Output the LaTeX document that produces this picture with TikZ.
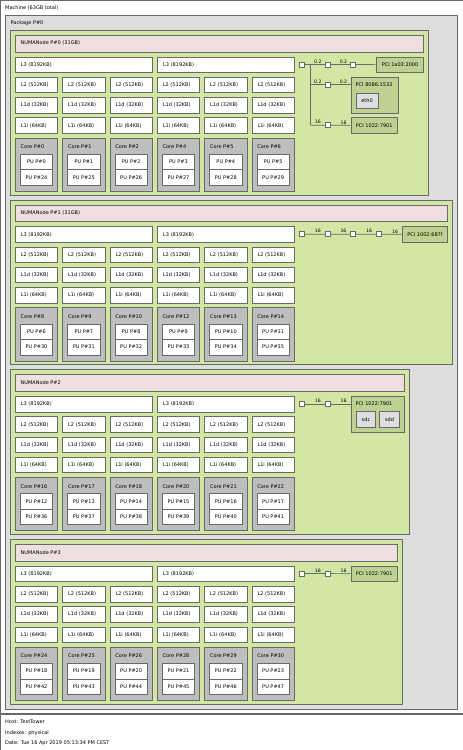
\documentclass[tikz,border=0pt]{standalone}
\usepackage{fontspec}
\setmainfont{DejaVu Sans}
\usetikzlibrary{positioning,calc}
\definecolor{pkgcol}{HTML}{DEDEDE}
\definecolor{numacol}{HTML}{D2E7A4}
\definecolor{memcol}{HTML}{EFDFDE}
\definecolor{corecol}{HTML}{BEBEBE}
\definecolor{pcicol}{RGB}{190,209,146}
\definecolor{oscol}{HTML}{DEDEDE}
\definecolor{edgecol}{RGB}{105,105,105}
\tikzset{
  bx/.style={draw=edgecol,line width=0.7pt,anchor=north west,inner sep=0pt,
            font=\fontsize{5}{6}\selectfont},
  machine/.style={bx,fill=white},
  pkg/.style={bx,fill=pkgcol},
  numa/.style={bx,fill=numacol},
  memtitle/.style={bx,fill=memcol},
  cache/.style={bx,fill=white,minimum height=15.5pt,align=left,inner xsep=5.5pt},
  core/.style={bx,fill=corecol,minimum width=42.3pt,minimum height=53.3pt},
  pu/.style={bx,fill=white,minimum width=32.3pt,minimum height=15.4pt},
  pcidev/.style={bx,fill=pcicol,minimum height=15.5pt,inner xsep=5pt},
  osdev/.style={bx,fill=oscol},
  bridge/.style={draw=edgecol,line width=0.7pt,fill=white,minimum size=5pt,inner sep=0pt},
  txt/.style={anchor=west,inner sep=0pt,font=\fontsize{5}{6}\selectfont},
  link/.style={draw=edgecol,line width=0.7pt},
  speed/.style={pos=1,anchor=south,xshift=-7pt,yshift=0.9pt,inner sep=0pt,
               font=\fontsize{4.6}{5}\selectfont},
}
\begin{document}
\begin{tikzpicture}[x=1pt,y=-1pt]
  \useasboundingbox (0,0) rectangle (463,750);
  \node[bx,fill=white,minimum width=462.2pt,minimum height=749.2pt] (frame) at (0.4,0.4) {};
  \node[machine,minimum width=462.2pt,minimum height=713.2pt] (mach) at (0.4,0.4) {};
  \node[txt] (macht) at (5,8) {Machine (63GB total)};
  \node[pkg,minimum width=452pt,minimum height=693.6pt] (pkg) at (5,15) {};
  \node[txt] (pkgt) at (10.5,23) {Package P\#0};

  % NUMA nodes with caches and cores
  \foreach \n/\y/\r/\ttl in {0/30/428/{NUMANode P\#0 (31GB)},
                            1/199.7/452/{NUMANode P\#1 (31GB)},
                            2/369.4/409/{NUMANode P\#2},
                            3/539.1/402/{NUMANode P\#3}} {
    \node[numa,minimum width=\r pt-10pt,minimum height=164.5pt] (numa\n) at (10,\y) {};
    \node[memtitle,minimum width=\r pt-20pt,minimum height=16.7pt] (mem\n) at (15,\y+5) {};
    \node[txt] (memt\n) at (20.5,\y+13.4) {\ttl};
    \node[cache,text width=126pt] (l3-\n-0) at (15,\y+26.7) {L3 (8192KB)};
    \node[cache,text width=126pt] (l3-\n-1) at (157.3,\y+26.7) {L3 (8192KB)};
    \foreach \j in {0,...,5} {
      \pgfmathsetmacro\cx{15+47.33*\j}
      \pgfmathtruncatemacro\cn{8*\n+\j+(\j>2)}
      \pgfmathtruncatemacro\pa{6*\n+\j}
      \pgfmathtruncatemacro\pb{24+6*\n+\j}
      \node[cache,text width=31.3pt] (l2-\n-\j) at (\cx,\y+46.95) {L2 (512KB)};
      \node[cache,text width=31.3pt] (l1d-\n-\j) at (\cx,\y+67.2) {L1d (32KB)};
      \node[cache,text width=31.3pt] (l1i-\n-\j) at (\cx,\y+87.45) {L1i (64KB)};
      \node[core] (core-\n-\j) at (\cx,\y+107.7) {};
      \node[txt] (coret-\n-\j) at (\cx+5.5,\y+117) {Core P\#\cn};
      \node[pu] (pu-\n-\j-a) at (\cx+5,\y+124) {PU P\#\pa};
      \node[pu] (pu-\n-\j-b) at (\cx+5,\y+139.4) {PU P\#\pb};
    }
  }

  % I/O of node 0
  \node[bridge] (h0) at (302,64.45) {};
  \node[bridge] (b0a) at (327.7,64.45) {};
  \node[bridge] (b0b) at (353.3,64.45) {};
  \node[pcidev] (p0a) at (376.4,56.7) {PCI 1a03:2000};
  \node[bridge] (b0c) at (327.7,84.7) {};
  \node[pcidev,minimum width=47.3pt,minimum height=35.7pt] (p0b) at (350.5,77) {};
  \node[txt] (p0bt) at (355.5,84.7) {PCI 8086:1533};
  \node[osdev,minimum width=22pt,minimum height=15.3pt] (eth0) at (355.7,92.5) {eth0};
  \node[bridge] (b0d) at (327.7,125.2) {};
  \node[pcidev] (p0c) at (350.5,117.45) {PCI 1022:7901};
  \coordinate (v0) at (310.5,64.45);
  \coordinate (v0b) at (310.5,84.7);
  \coordinate (v0c) at (310.5,125.2);
  \draw[link] (h0) -- node[speed] {0.2} (b0a) -- node[speed] {0.2} (b0b) -- (p0a);
  \draw[link] (v0) -- (v0c);
  \draw[link] (v0b) -- node[speed] {0.2} (b0c) -- node[speed] {0.2} (b0c -| p0b.west);
  \draw[link] (v0c) -- node[speed] {16} (b0d) -- node[speed] {16} (p0c);

  % I/O of node 1
  \node[bridge] (h1) at (302,234.15) {};
  \node[bridge] (b1a) at (327.7,234.15) {};
  \node[bridge] (b1b) at (353.3,234.15) {};
  \node[bridge] (b1c) at (379,234.15) {};
  \node[pcidev] (p1) at (402,226.4) {PCI 1002:687f};
  \draw[link] (h1) -- node[speed] {16} (b1a) -- node[speed] {16} (b1b)
    -- node[speed] {16} (b1c) -- node[speed] {16} (p1);

  % I/O of node 2
  \node[bridge] (h2) at (302,403.85) {};
  \node[bridge] (b2a) at (327.7,403.85) {};
  \node[pcidev,minimum width=53.3pt,minimum height=35.5pt] (p2) at (350.5,396.1) {};
  \node[txt] (p2t) at (355.5,403.85) {PCI 1022:7901};
  \node[osdev,minimum width=19.3pt,minimum height=16pt] (sdc) at (356,411) {sdc};
  \node[osdev,minimum width=19.7pt,minimum height=16pt] (sdd) at (379.3,411) {sdd};
  \draw[link] (h2) -- node[speed] {16} (b2a) -- node[speed] {16} (b2a -| p2.west);

  % I/O of node 3
  \node[bridge] (h3) at (302,573.55) {};
  \node[bridge] (b3a) at (327.7,573.55) {};
  \node[pcidev] (p3) at (350.5,565.8) {PCI 1022:7901};
  \draw[link] (h3) -- node[speed] {16} (b3a) -- node[speed] {16} (p3);

  \draw[link] (0.4,713.6) -- (462.6,713.6);
  \node[txt] (host) at (5,722) {Host: TestTower};
  \node[txt] (idx) at (5,733) {Indexes: physical};
  \node[txt] (date) at (5,743) {Date: Tue 16 Apr 2019 05:13:34 PM CEST};
\end{tikzpicture}
\end{document}
